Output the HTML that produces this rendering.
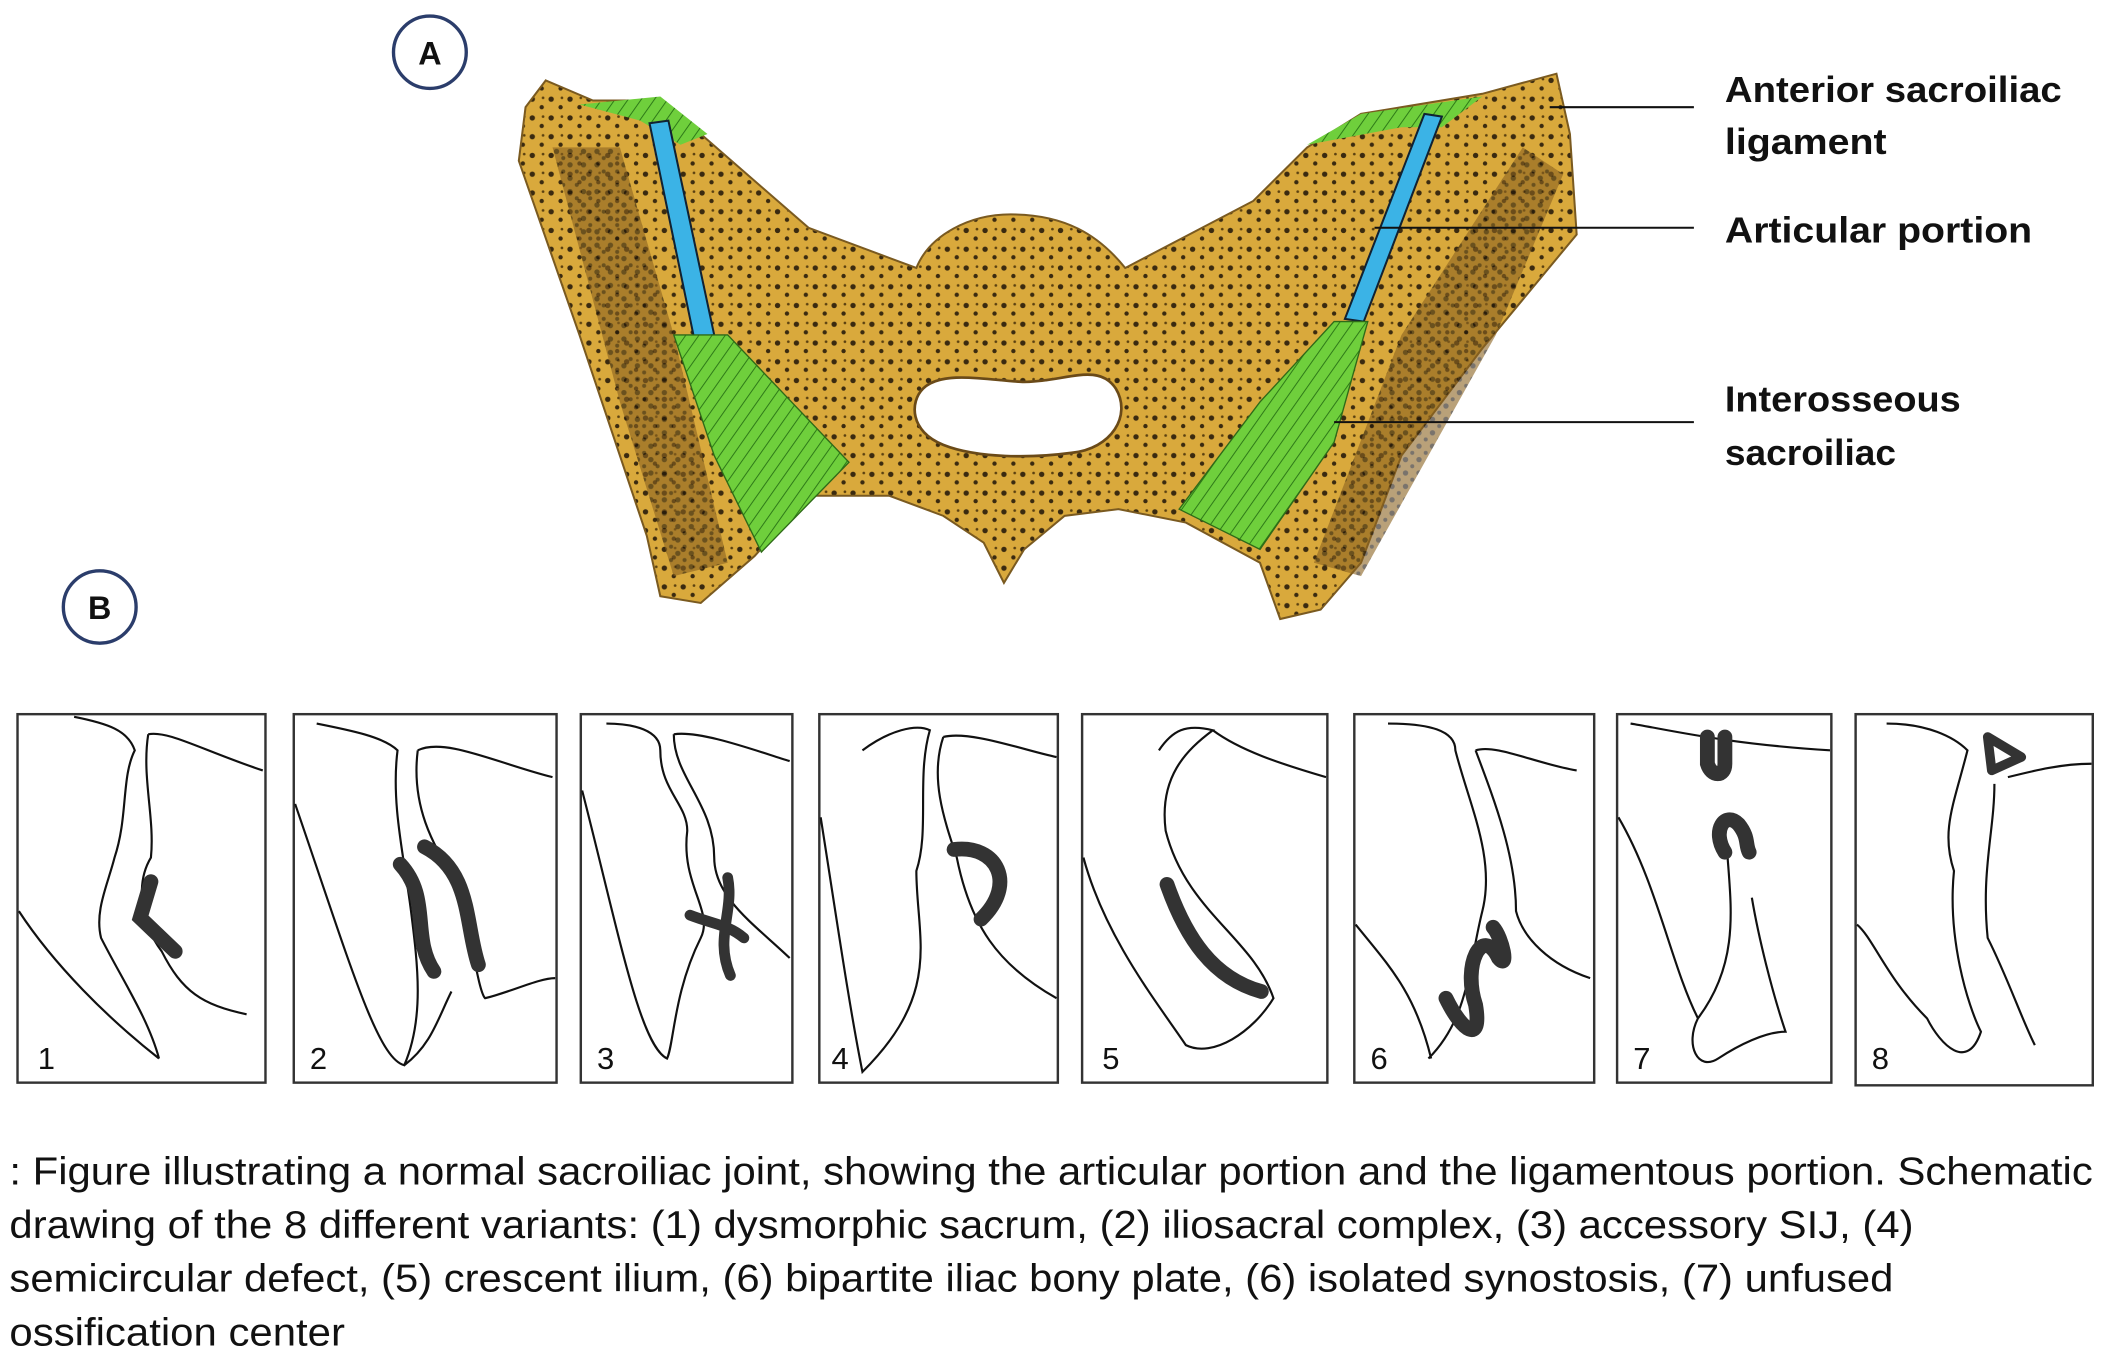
<!DOCTYPE html>
<html><head><meta charset="utf-8"><style>
html,body{margin:0;padding:0;background:#fff;width:2113px;height:1360px;overflow:hidden}
svg{display:block}
.lbl{font-family:"Liberation Sans",sans-serif;font-weight:bold;font-size:27px;fill:#111}
.cap{font-family:"Liberation Sans",sans-serif;font-size:29px;fill:#111}
.num{font-family:"Liberation Sans",sans-serif;font-size:23px;fill:#111}
.ln{fill:none;stroke:#111;stroke-width:1.6}
.th{fill:none;stroke:#333;stroke-width:11;stroke-linecap:round}
.box{fill:#fff;stroke:#333;stroke-width:1.8}
</style></head><body>
<svg width="2113" height="1360" viewBox="0 0 1568 1015" preserveAspectRatio="none">
<defs>
<pattern id="dots" width="14" height="14" patternUnits="userSpaceOnUse">
<rect width="14" height="14" fill="#d9a93c"/>
<circle cx="3" cy="4" r="2" fill="#3a2a10"/><circle cx="10" cy="10" r="1.6" fill="#3a2a10"/><circle cx="11" cy="3" r="1" fill="#5a4010"/>
</pattern>
<pattern id="dots2" width="10" height="10" patternUnits="userSpaceOnUse">
<rect width="10" height="10" fill="#8a6220"/>
<circle cx="3" cy="3" r="2" fill="#20160a"/><circle cx="8" cy="8" r="1.5" fill="#20160a"/>
</pattern>
<pattern id="grn" width="8" height="8" patternUnits="userSpaceOnUse" patternTransform="rotate(35)">
<rect width="8" height="8" fill="#6fcf3c"/><line x1="0" y1="0" x2="0" y2="8" stroke="#2e7a18" stroke-width="1.5"/>
</pattern>
</defs>
<circle cx="319" cy="39" r="27" fill="#fff" stroke="#2b3d6b" stroke-width="2.5"/>
<text x="319" y="48" text-anchor="middle" class="lbl" style="font-size:24px">A</text>
<circle cx="74" cy="453" r="27" fill="#fff" stroke="#2b3d6b" stroke-width="2.5"/>
<text x="74" y="462" text-anchor="middle" class="lbl" style="font-size:24px">B</text>

<!-- pelvis -->
<path d="M405,60 L440,75 L490,75 L520,100 L600,170 L680,200 C690,175 720,160 750,160 C790,160 815,175 835,200 L930,150 L970,110 L1010,85 L1100,70 L1155,55 L1165,100 L1170,175 L1100,260 L1040,340 L1010,420 L980,455 L950,462 L935,420 L880,390 L830,380 L790,385 L760,410 L745,435 L730,405 L700,385 L660,370 L600,370 L560,415 L520,450 L490,445 L480,400 L430,250 L385,120 L390,80 Z" fill="url(#dots)" stroke="#7a5a20" stroke-width="1.5"/>
<path d="M410,110 L460,110 L500,250 L540,420 L500,430 L460,300 Z" fill="url(#dots2)" opacity="0.6"/>
<path d="M1130,110 L1160,130 L1110,250 L1010,430 L975,420 L1040,250 Z" fill="url(#dots2)" opacity="0.6"/>
<path d="M685,290 C700,275 740,285 760,285 C790,285 815,270 828,290 C840,310 825,335 795,338 C765,342 725,342 700,332 C675,322 675,300 685,290 Z" fill="#fff" stroke="#6a4a18" stroke-width="2"/>
<path d="M430,78 L490,72 L525,100 L505,108 L475,90 Z" fill="url(#grn)"/>
<path d="M970,108 L1010,85 L1100,72 L1070,95 L1040,95 Z" fill="url(#grn)"/>
<path d="M482,92 L496,90 L530,250 L515,252 Z" fill="#3bb3e6" stroke="#123" stroke-width="1.5"/>
<path d="M1057,85 L1070,87 L1012,240 L998,238 Z" fill="#3bb3e6" stroke="#123" stroke-width="1.5"/>
<path d="M500,250 L540,250 L630,345 L565,412 L530,340 Z" fill="url(#grn)" stroke="#2e6a18"/>
<path d="M990,240 L1015,240 L990,330 L935,410 L875,380 L935,300 Z" fill="url(#grn)" stroke="#2e6a18"/>

<!-- labels -->
<line x1="1150" y1="80" x2="1257" y2="80" stroke="#111" stroke-width="1.5"/>
<line x1="1020" y1="170" x2="1257" y2="170" stroke="#111" stroke-width="1.5"/>
<line x1="990" y1="315" x2="1257" y2="315" stroke="#111" stroke-width="1.5"/>
<text x="1280" y="76" class="lbl" textLength="250" lengthAdjust="spacingAndGlyphs">Anterior sacroiliac</text>
<text x="1280" y="115" class="lbl" textLength="120" lengthAdjust="spacingAndGlyphs">ligament</text>
<text x="1280" y="181" class="lbl" textLength="228" lengthAdjust="spacingAndGlyphs">Articular portion</text>
<text x="1280" y="307" class="lbl" textLength="175" lengthAdjust="spacingAndGlyphs">Interosseous</text>
<text x="1280" y="347" class="lbl" textLength="127" lengthAdjust="spacingAndGlyphs">sacroiliac</text>

<!-- panels -->
<rect class="box" x="13" y="533" width="184" height="275"/>
<path class="ln" d="M55,535 C80,540 95,545 100,560 C90,580 95,610 85,640 C80,660 70,680 75,700 C90,730 110,760 118,790 M110,548 C125,545 150,560 195,575 M110,548 C105,580 115,610 112,640 C100,660 105,690 120,710 C135,740 150,750 183,757 M14,680 C40,720 80,760 118,790"/>
<path class="th" d="M112,658 L104,685 L130,710"/>
<text x="28" y="798" class="num">1</text>

<rect class="box" x="218" y="533" width="195" height="275"/>
<path class="ln" d="M235,540 C260,545 285,550 295,560 C290,600 300,640 305,680 C310,720 315,760 300,795 C280,790 260,720 219,600 M310,560 C330,550 370,570 410,580 M310,560 C305,600 320,630 340,660 C350,700 355,740 360,745 C380,740 400,730 412,730 M300,795 C320,780 325,760 335,740"/>
<path class="th" d="M297,645 C320,670 305,700 322,725 M315,632 C350,650 345,690 355,720"/>
<text x="230" y="798" class="num">2</text>

<rect class="box" x="431" y="533" width="157" height="275"/>
<path class="ln" d="M450,540 C470,540 490,545 490,560 C490,590 510,600 510,620 C505,660 530,680 520,700 C500,740 500,780 495,790 C475,780 460,700 432,590 M500,548 C520,545 560,560 586,568 M500,548 C500,580 530,600 530,640 C530,670 560,690 586,715"/>
<path class="th" style="stroke-width:8" d="M512,683 C530,690 540,690 552,700 M540,655 C545,680 530,700 542,728"/>
<text x="443" y="798" class="num">3</text>

<rect class="box" x="608" y="533" width="177" height="275"/>
<path class="ln" d="M640,560 C660,545 680,540 690,545 C680,580 690,620 680,650 C680,700 700,740 640,800 C630,750 620,680 609,610 M700,550 C720,545 760,560 784,565 M700,550 C690,580 700,610 710,640 C720,690 740,720 784,745"/>
<path class="th" d="M708,634 C740,630 755,660 728,686"/>
<text x="617" y="798" class="num">4</text>

<rect class="box" x="803" y="533" width="182" height="275"/>
<path class="ln" d="M860,560 C870,545 880,540 900,545 C880,560 860,580 865,620 C880,680 930,700 945,745 C930,770 900,790 880,780 C860,750 820,700 804,640 M900,545 C920,560 950,570 984,580"/>
<path class="th" d="M866,660 C880,700 900,730 936,740"/>
<text x="818" y="798" class="num">5</text>

<rect class="box" x="1005" y="533" width="178" height="275"/>
<path class="ln" d="M1030,540 C1060,540 1080,545 1080,560 C1090,600 1110,640 1100,680 C1090,720 1090,760 1060,790 M1095,560 C1110,555 1140,570 1170,575 M1095,560 C1110,600 1125,640 1125,680 C1130,700 1150,720 1180,730 M1006,690 C1030,720 1050,740 1062,790"/>
<path class="th" d="M1073,745 C1085,770 1100,780 1095,750 C1085,720 1100,690 1112,715 C1120,725 1115,700 1108,692"/>
<text x="1017" y="798" class="num">6</text>

<rect class="box" x="1200" y="533" width="159" height="275"/>
<path class="ln" d="M1210,540 C1240,545 1280,555 1358,560 M1282,640 C1285,680 1290,720 1260,760 C1250,780 1260,800 1275,790 C1290,780 1310,770 1325,770 C1315,740 1305,700 1300,670 M1201,610 C1230,660 1240,720 1260,760"/>
<path class="th" d="M1267,550 L1267,570 C1270,580 1280,580 1280,570 L1280,550 M1280,636 C1270,620 1280,605 1290,615 C1298,625 1295,630 1298,636"/>
<text x="1212" y="798" class="num">7</text>

<rect class="box" x="1377" y="533" width="176" height="277"/>
<path class="ln" d="M1400,540 C1430,540 1450,550 1460,560 C1450,600 1440,620 1450,650 C1445,700 1460,750 1470,770 C1460,800 1440,780 1430,760 C1400,730 1390,700 1378,690 M1490,580 C1510,575 1530,570 1552,570 M1480,585 C1480,620 1470,650 1475,700 C1490,730 1500,760 1510,780"/>
<path d="M1475,550 L1500,565 L1478,575 Z" fill="none" stroke="#333" stroke-width="7" stroke-linejoin="round"/>
<text x="1389" y="798" class="num">8</text>

<!-- caption -->
<text x="7" y="884" class="cap" textLength="1546" lengthAdjust="spacingAndGlyphs">: Figure illustrating a normal sacroiliac joint, showing the articular portion and the ligamentous portion. Schematic</text>
<text x="7" y="924" class="cap" textLength="1413" lengthAdjust="spacingAndGlyphs">drawing of the 8 different variants: (1) dysmorphic sacrum, (2) iliosacral complex, (3) accessory SIJ, (4)</text>
<text x="7" y="964" class="cap" textLength="1398" lengthAdjust="spacingAndGlyphs">semicircular defect, (5) crescent ilium, (6) bipartite iliac bony plate, (6) isolated synostosis, (7) unfused</text>
<text x="7" y="1004" class="cap" textLength="249" lengthAdjust="spacingAndGlyphs">ossification center</text>
</svg>
</body></html>
